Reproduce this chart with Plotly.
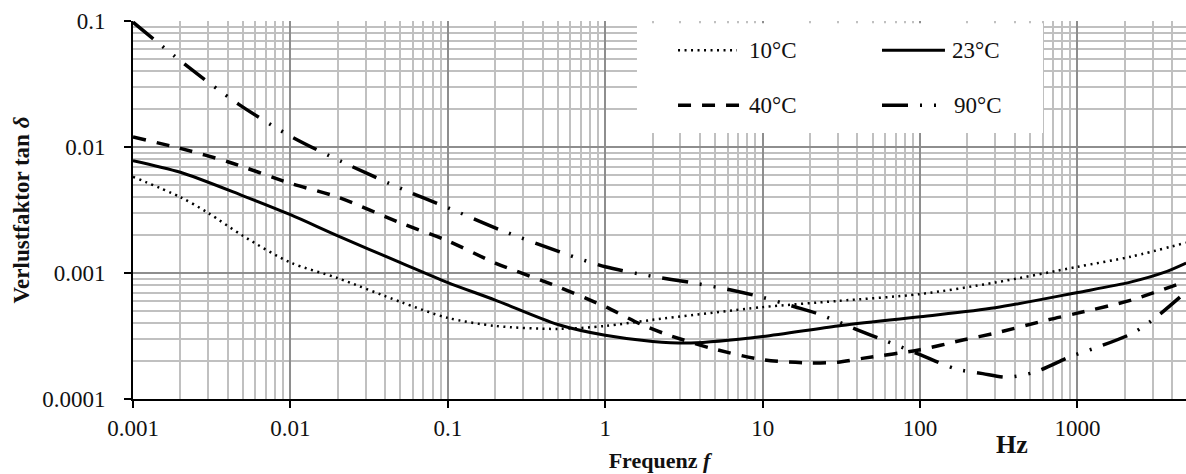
import plotly.graph_objects as go

# Verlustfaktor tan δ über der Frequenz für vier Temperaturen
freq_10 = [0.001, 0.002, 0.003, 0.005, 0.01, 0.02, 0.05, 0.1, 0.2, 0.5, 1, 2, 10, 30, 100, 300, 1000, 2200, 4900]
tand_10 = [0.0058, 0.0040, 0.0030, 0.00197, 0.00121, 0.00091, 0.00059, 0.00044, 0.00038, 0.00036, 0.00038,
           0.000425, 0.000536, 0.0006, 0.00068, 0.00084, 0.00112, 0.00135, 0.00174]

freq_23 = [0.001, 0.002, 0.005, 0.01, 0.02, 0.05, 0.1, 0.2, 0.5, 1, 2, 3.5, 10, 30, 100, 300, 1000, 2200, 3550,
           4900]
tand_23 = [0.0078, 0.0063, 0.0041, 0.0029, 0.00197, 0.00121, 0.00084, 0.00061, 0.00039, 0.00032, 0.000286,
           0.000278, 0.000313, 0.00038, 0.00045, 0.00053, 0.0007, 0.00085, 0.00101, 0.0012]

freq_40 = [0.001, 0.002, 0.004, 0.01, 0.02, 0.05, 0.1, 0.2, 0.5, 1, 1.7, 2.5, 4.7, 10, 20, 30, 44, 100, 190,
           300, 650, 1000, 2200, 4900]
tand_40 = [0.0120, 0.00975, 0.00764, 0.00515, 0.0040, 0.0025, 0.0018, 0.0012, 0.00078, 0.00054, 0.00039,
           0.000323, 0.000253, 0.000205, 0.000193, 0.000196, 0.000211, 0.000246, 0.000295, 0.000333,
           0.000425, 0.00048, 0.00061, 0.00086]

freq_90 = [0.001, 0.00214, 0.0047, 0.01, 0.0214, 0.052, 0.1, 0.215, 0.53, 1, 2, 3.5, 6.4, 10, 16, 23, 40, 58,
           100, 170, 250, 360, 540, 910, 1320, 2240, 3160, 4900]
tand_90 = [0.098, 0.0452, 0.0218, 0.0122, 0.0076, 0.0046, 0.0033, 0.0022, 0.00145, 0.00112, 0.00094, 0.00084,
           0.00073, 0.00064, 0.00054, 0.00047, 0.000354, 0.000295, 0.000225, 0.000173, 0.000159, 0.000149,
           0.000164, 0.000218, 0.000256, 0.000333, 0.000446, 0.00071]

labels = ["10°C", "23°C", "40°C", "90°C"]
dashes = ["2px,4.5px", "solid", "13px,11px", "26px,12px,2px,12px,2px,12px"]
widths = [2.5, 3, 3.5, 3.5]

x_major = [0.001, 0.01, 0.1, 1, 10, 100, 1000]
x_major_text = ["0.001", "0.01", "0.1", "1", "10", "100", "1000"]
y_major = [0.0001, 0.001, 0.01, 0.1]
y_major_text = ["0.0001", "0.001", "0.01", "0.1"]

x_minor = [k * 10.0 ** n for n in range(-3, 4) for k in range(2, 10)]
y_minor = [k * 10.0 ** n for n in range(-4, -1) for k in range(2, 10)]

SERIF = "Liberation Serif"
INK = "#111111"

fig = go.Figure()
series = [(freq_10, tand_10), (freq_23, tand_23), (freq_40, tand_40), (freq_90, tand_90)]
for (fx, fy), name, dash, w in zip(series, labels, dashes, widths):
    fig.add_trace(go.Scatter(
        x=fx, y=fy, mode="lines", name=name, showlegend=False,
        line=dict(color="black", width=w, dash=dash, shape="spline", smoothing=0.8),
    ))

axis_common = dict(
    type="log",
    showline=True, linecolor="black", linewidth=2,
    ticks="outside", ticklen=7, tickwidth=2, tickcolor="black",
    showgrid=True, gridcolor="#8e8e8e", gridwidth=1.6,
    zeroline=False,
    tickfont=dict(family=SERIF, size=23, color=INK),
)

fig.update_xaxes(
    **axis_common,
    range=[-3, 3.6895],
    tickmode="array", tickvals=x_major, ticktext=x_major_text,
    minor=dict(tickmode="array", tickvals=x_minor, showgrid=True, gridcolor="#c0c0c0", gridwidth=1.5, ticks=""),
    title=dict(text="<b>Frequenz <i>f</i></b>", font=dict(family=SERIF, size=22, color=INK), standoff=13),
)
fig.update_yaxes(
    **axis_common,
    range=[-4, -1],
    ticklabelstandoff=14,
    tickmode="array", tickvals=y_major, ticktext=y_major_text,
    minor=dict(tickmode="array", tickvals=y_minor, showgrid=True, gridcolor="#c0c0c0", gridwidth=1.5, ticks=""),
    title=dict(text="<b>Verlustfaktor tan <i>δ</i></b>", font=dict(family=SERIF, size=23, color=INK), standoff=6),
)

# Legendenkasten mit Linienmustern
shapes = [dict(type="rect", xref="paper", yref="paper", x0=0.4786, x1=0.8642, y0=0.7034, y1=0.9939,
               fillcolor="white", line=dict(width=0), layer="above")]
legend_pos = [(0.5176, 0.5736, 0.9226), (0.7113, 0.7711, 0.9226), (0.5176, 0.5783, 0.7774), (0.7113, 0.7664, 0.7774)]
text_x = [0.5830, 0.7759, 0.5830, 0.7778]
annotations = []
for (x0, x1, yy), tx, name, dash, w in zip(legend_pos, text_x, labels, dashes, widths):
    shapes.append(dict(type="line", xref="paper", yref="paper", x0=x0, x1=x1, y0=yy, y1=yy,
                       line=dict(color="black", width=w, dash=dash), layer="above"))
    annotations.append(dict(xref="paper", yref="paper", x=tx, y=yy, xanchor="left", yanchor="middle",
                            text=name, showarrow=False, font=dict(family=SERIF, size=23, color=INK)))

annotations.append(dict(xref="paper", yref="paper", x=0.835, y=-0.12, xanchor="center", yanchor="middle",
                        text="<b>Hz</b>", showarrow=False, font=dict(family=SERIF, size=26, color=INK)))

fig.update_layout(
    width=1186, height=474,
    margin=dict(l=133, r=0, t=21, b=75),
    paper_bgcolor="white", plot_bgcolor="white",
    shapes=shapes, annotations=annotations,
    showlegend=False,
)

fig.write_html("out.html")
